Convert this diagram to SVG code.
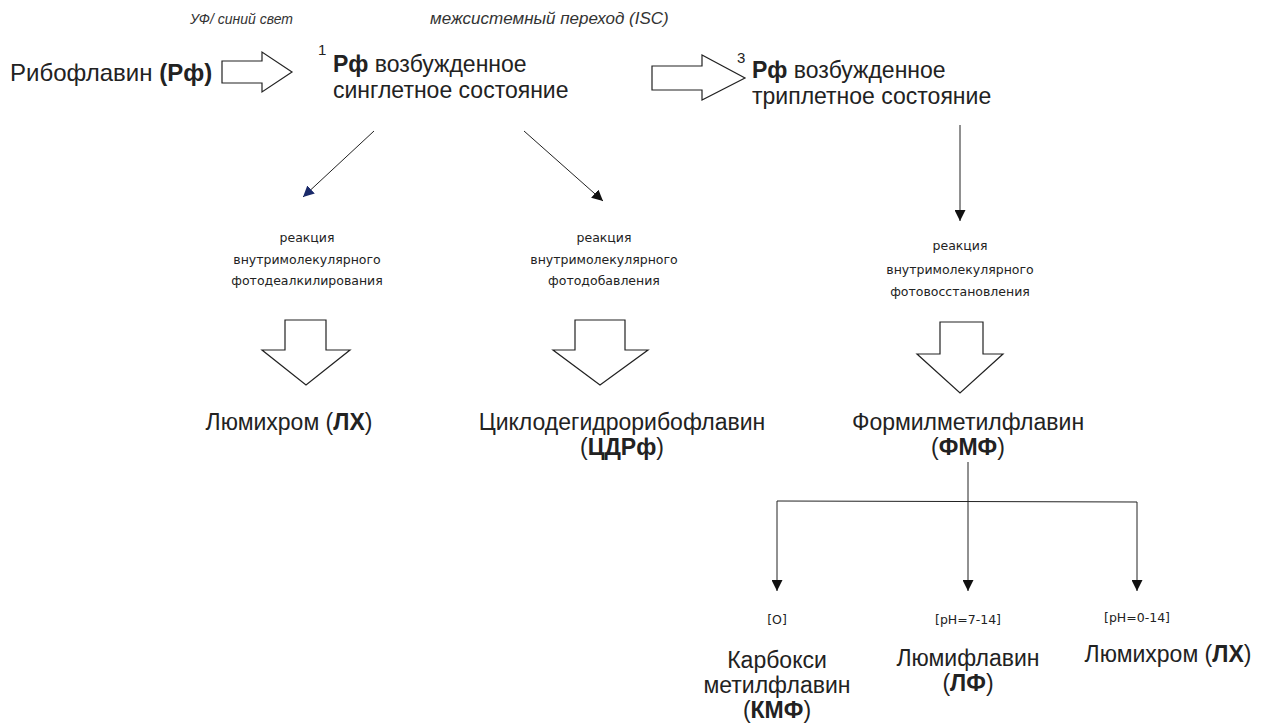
<svg xmlns="http://www.w3.org/2000/svg" width="1269" height="724" viewBox="0 0 1269 724">
<defs>
<style>
.t{font-family:"Liberation Sans",Arial,sans-serif;font-size:23px;fill:#222}
.i{font-family:"Liberation Sans",Arial,sans-serif;font-size:14px;font-style:italic;fill:#333}
.s{font-family:"DejaVu Sans",sans-serif;font-size:12.5px;fill:#222}
.sup{font-family:"Liberation Sans",Arial,sans-serif;font-size:15px;fill:#222}
.b{font-weight:bold}
.blk{fill:#fff;stroke:#222;stroke-width:1.2}
.ln{stroke:#222;stroke-width:1;fill:none}
</style>
<marker id="ah" viewBox="0 0 10 10" refX="10" refY="5" markerWidth="11" markerHeight="11" markerUnits="userSpaceOnUse" orient="auto"><path d="M0,0 L10,5 L0,10 z" fill="#111"/></marker>
<marker id="ahb" viewBox="0 0 10 10" refX="10" refY="5" markerWidth="11" markerHeight="11" markerUnits="userSpaceOnUse" orient="auto"><path d="M0,0 L10,5 L0,10 z" fill="#1a2a6a"/></marker>
</defs>
<rect width="1269" height="724" fill="#fff"/>

<g id="label-uv"><text class="i" x="190" y="24">УФ/ синий свет</text></g>
<g id="label-isc"><text class="i" x="430" y="24" style="font-size:17px">межсистемный переход (ISC)</text></g>

<g id="riboflavin"><text class="t" x="10" y="81" style="font-size:24px">Рибофлавин <tspan class="b">(Рф)</tspan></text></g>
<g id="singlet">
<text class="sup" x="318" y="55">1</text>
<text class="t" x="333" y="72"><tspan class="b">Рф</tspan> возбужденное</text>
<text class="t" x="333" y="98">синглетное состояние</text>
</g>
<g id="triplet">
<text class="sup" x="737" y="63">3</text>
<text class="t" x="752" y="78"><tspan class="b">Рф</tspan> возбужденное</text>
<text class="t" x="752" y="104">триплетное состояние</text>
</g>

<g id="block-arrows">
<path class="blk" d="M222,61 H262 V52 L292,72 L262,92 V83 H222 Z"/>
<path class="blk" d="M652,66 H702 V55 L745,78 L702,100 V90 H652 Z"/>
<path class="blk" d="M285,320 H326 V350 H350 L306,385 L262,350 H285 Z"/>
<path class="blk" d="M575,320 H625 V350 H648 L600,385 L553,350 H575 Z"/>
<path class="blk" d="M940,322 H983 V354 H1003 L960,393 L917,354 H940 Z"/>
</g>

<g id="connectors">
<line class="ln" x1="374" y1="131" x2="303" y2="197" stroke="#445" marker-end="url(#ahb)"/>
<line class="ln" x1="524" y1="131" x2="603" y2="201" marker-end="url(#ah)"/>
<line class="ln" x1="960" y1="125" x2="960" y2="221" marker-end="url(#ah)"/>
<line class="ln" x1="968" y1="462" x2="968" y2="501"/>
<line class="ln" x1="777" y1="501" x2="1137" y2="502"/>
<line class="ln" x1="777" y1="501" x2="777" y2="591" marker-end="url(#ah)"/>
<line class="ln" x1="968" y1="501" x2="968" y2="591" marker-end="url(#ah)"/>
<line class="ln" x1="1137" y1="502" x2="1137" y2="591" marker-end="url(#ah)"/>
</g>

<g id="reaction-1" text-anchor="middle">
<text class="s" x="307" y="242">реакция</text>
<text class="s" x="307" y="264">внутримолекулярного</text>
<text class="s" x="307" y="285">фотодеалкилирования</text>
</g>
<g id="reaction-2" text-anchor="middle">
<text class="s" x="604" y="242">реакция</text>
<text class="s" x="604" y="264">внутримолекулярного</text>
<text class="s" x="604" y="285">фотодобавления</text>
</g>
<g id="reaction-3" text-anchor="middle">
<text class="s" x="960" y="250">реакция</text>
<text class="s" x="960" y="274">внутримолекулярного</text>
<text class="s" x="960" y="296">фотовосстановления</text>
</g>

<g id="lumichrome-1"><text class="t" x="289" y="430" text-anchor="middle">Люмихром (<tspan class="b">ЛХ</tspan>)</text></g>
<g id="cdrf" text-anchor="middle">
<text class="t" x="622" y="430">Циклодегидрорибофлавин</text>
<text class="t" x="622" y="455">(<tspan class="b">ЦДРф</tspan>)</text>
</g>
<g id="fmf" text-anchor="middle">
<text class="t" x="968" y="430">Формилметилфлавин</text>
<text class="t" x="968" y="455">(<tspan class="b">ФМФ</tspan>)</text>
</g>

<g id="kmf" text-anchor="middle">
<text class="s" x="777" y="624">[O]</text>
<text class="t" x="777" y="668">Карбокси</text>
<text class="t" x="777" y="693">метилфлавин</text>
<text class="t" x="777" y="718">(<tspan class="b">КМФ</tspan>)</text>
</g>
<g id="lf" text-anchor="middle">
<text class="s" x="968" y="624">[pH=7-14]</text>
<text class="t" x="968" y="666">Люмифлавин</text>
<text class="t" x="968" y="691">(<tspan class="b">ЛФ</tspan>)</text>
</g>
<g id="lumichrome-2" text-anchor="middle">
<text class="s" x="1137" y="622">[pH=0-14]</text>
<text class="t" x="1168" y="662">Люмихром (<tspan class="b">ЛХ</tspan>)</text>
</g>
</svg>
